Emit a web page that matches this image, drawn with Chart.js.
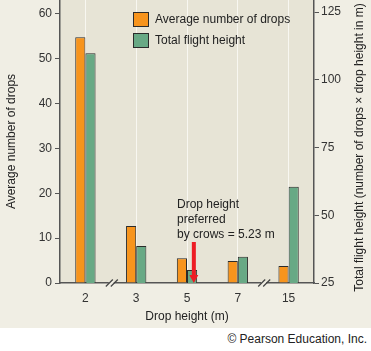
<!DOCTYPE html>
<html>
<head>
<meta charset="utf-8">
<script src="https://cdn.jsdelivr.net/npm/chart.js@4.4.1/dist/chart.umd.min.js"></script>
<style>
    html, body { margin: 0; padding: 0; background: #ffffff; }
    #wrap { position: relative; width: 371px; height: 328px; background: #f0eee4; }
    #credit {
        width: 371px; height: 23px; text-align: right;
        font: 12px "Liberation Sans", Arial, sans-serif; color: #222;
        box-sizing: border-box; padding-right: 4px; line-height: 23px;
    }
</style>
</head>
<body>
<div id="wrap"><canvas id="dropsChart" width="371" height="328"></canvas></div>
<div id="credit">© Pearson Education, Inc.</div>
<script>
// drop heights (m) on the x axis
const dropHeights = ['2', '3', '5', '7', '15'];
// average number of drops (left axis)
const avgDrops = [54.8, 12.7, 5.5, 4.9, 3.8];
// total flight height = drops x height (right axis)
const totalFlight = [109.8, 38.7, 29.8, 34.7, 60.5];
const preferredHeight = 5.23;

const FONT = '"Liberation Sans", Arial, sans-serif';
Chart.defaults.font.family = FONT;
Chart.defaults.font.size = 12;
Chart.defaults.color = '#333';

// plot background, break marks, arrow, notes, legend, right axis title
const decor = {
    id: 'decor',
    beforeDraw(chart) {
        const a = chart.chartArea, c = chart.ctx;
        c.save();
        c.fillStyle = '#e7e4d6';
        c.fillRect(a.left, a.top, a.right - a.left, a.bottom - a.top);
        c.restore();
    },
    afterDraw(chart) {
        const c = chart.ctx, a = chart.chartArea, x = chart.scales.x;
        c.save();
        // axis breaks between 2|3 and 7|15
        [[0, 1], [3, 4]].forEach(([i, j]) => {
            const cx = (x.getPixelForValue(i) + x.getPixelForValue(j)) / 2 + 1;
            const y = a.bottom;
            c.fillStyle = '#f0eee4';
            c.fillRect(cx - 3, y - 2, 5, 4);
            c.strokeStyle = '#444';
            c.lineWidth = 1.2;
            [-2.5, 2.5].forEach(d => {
                c.beginPath();
                c.moveTo(cx + d - 3.5, y + 3.5);
                c.lineTo(cx + d + 3.5, y - 3.5);
                c.stroke();
            });
        });
        // arrow at preferred height (between 5 and 7)
        const i5 = dropHeights.indexOf('5'), i7 = dropHeights.indexOf('7');
        const p5 = x.getPixelForValue(i5), p7 = x.getPixelForValue(i7);
        const ax = p5 + (preferredHeight - 5) / (7 - 5) * (p7 - p5) + 1;
        c.fillStyle = '#ed1c24';
        c.fillRect(ax - 2, 242, 4, 34);
        c.beginPath();
        c.moveTo(ax - 4.5, 275);
        c.lineTo(ax + 4.5, 275);
        c.lineTo(ax, 283);
        c.closePath();
        c.fill();
        // note
        c.fillStyle = '#222';
        c.font = '12px ' + FONT;
        c.textBaseline = 'middle';
        c.textAlign = 'left';
        ['Drop height', 'preferred', 'by crows = 5.23 m'].forEach((t, k) => {
            c.fillText(t, 177, 205 + k * 15);
        });
        // legend
        chart.data.datasets.forEach((ds, k) => {
            const y = 12 + k * 21;
            c.fillStyle = ds.backgroundColor;
            c.fillRect(133, y, 16, 15);
            c.strokeStyle = '#2b2b2b';
            c.lineWidth = 1;
            c.strokeRect(133.5, y + 0.5, 15, 14);
            c.fillStyle = '#222';
            c.fillText(ds.label, 155, y + 8);
        });
        // right axis title, reads bottom to top
        const r = chart.scales.y2;
        c.translate(360, (r.top + r.bottom) / 2 + 6);
        c.rotate(-Math.PI / 2);
        c.textAlign = 'center';
        c.fillText('Total flight height (number of drops × drop height in m)', 0, 0);
        c.restore();
    }
};

// no extra room above the plot for the top tick labels
const fitY = w => s => { s.width = w; s.paddingTop = 0; s.paddingBottom = 0; };

const ctx = document.getElementById('dropsChart').getContext('2d');
const dropsChart = new Chart(ctx, {
    type: 'bar',
    data: {
        labels: dropHeights,
        datasets: [
            {
                label: 'Average number of drops',
                data: avgDrops,
                yAxisID: 'y',
                backgroundColor: '#f7941d',
                borderColor: '#2b2b2b',
                borderWidth: 1
            },
            {
                label: 'Total flight height',
                data: totalFlight,
                yAxisID: 'y2',
                backgroundColor: '#68a985',
                borderColor: '#2b2b2b',
                borderWidth: 1
            }
        ]
    },
    options: {
        responsive: false,
        animation: false,
        categoryPercentage: 0.4,
        barPercentage: 1.0,
        layout: { padding: 0 },
        plugins: {
            legend: { display: false },
            tooltip: { enabled: false }
        },
        scales: {
            x: {
                afterFit: s => { s.height = 45; s.paddingLeft = 0; s.paddingRight = 0; },
                grid: { offset: false, color: '#f8f7f1', lineWidth: 1, drawTicks: false },
                border: { color: '#555', width: 1.5 },
                ticks: { padding: 8, color: '#333' },
                title: { display: true, text: 'Drop height (m)', color: '#222', padding: { top: 4 } }
            },
            y: {
                position: 'left',
                min: 0,
                max: 63.1,
                afterFit: fitY(60),
                grid: { drawOnChartArea: false, color: '#555', tickLength: 5 },
                border: { color: '#555', width: 1.5 },
                ticks: { stepSize: 10, includeBounds: false, padding: 3, color: '#333' },
                title: { display: true, text: 'Average number of drops', color: '#222', padding: { bottom: 6 } }
            },
            y2: {
                position: 'right',
                min: 25,
                max: 129.5,
                afterFit: fitY(57),
                grid: { drawOnChartArea: false, color: '#555', tickLength: 5 },
                border: { color: '#555', width: 1.5 },
                ticks: { stepSize: 25, includeBounds: false, padding: 2, color: '#333' }
            }
        }
    },
    plugins: [decor]
});
</script>
</body>
</html>
